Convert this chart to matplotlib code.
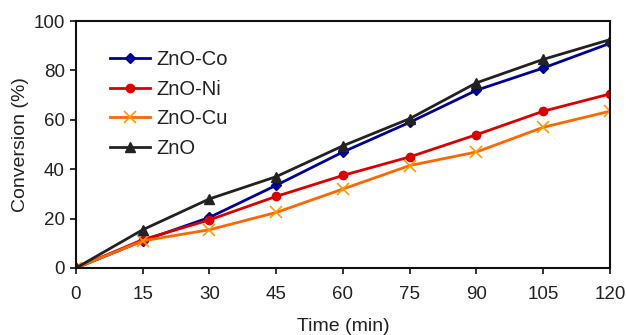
import matplotlib
matplotlib.use("Agg")
import matplotlib.pyplot as plt

plt.rcParams['font.family'] = ['Liberation Sans', 'DejaVu Sans']

time = [0, 15, 30, 45, 60, 75, 90, 105, 120]
zno_co = [0, 11, 20.5, 33.5, 47, 59, 72, 81, 91]
zno_ni = [0, 11.5, 19.5, 29, 37.5, 45, 54, 63.5, 70.5]
zno_cu = [0, 11, 15.5, 22.5, 32, 41.5, 47, 57, 63.5]
zno = [0, 15.5, 28, 37, 49.5, 60.5, 75, 84.5, 92.5]

fig = plt.figure(figsize=(6.26, 3.35), dpi=100)
ax = fig.add_axes([0.1214, 0.20, 0.853, 0.737])

ax.plot(time, zno_co, color='#000099', lw=2, marker='D', ms=5, label='ZnO-Co')
ax.plot(time, zno_ni, color='#DD0000', lw=2, marker='o', ms=6, label='ZnO-Ni')
ax.plot(time, zno_cu, color='#FF6600', lw=2, marker='x', ms=8, mec='#FF9900', mew=1.2, label='ZnO-Cu')
ax.plot(time, zno, color='#222222', lw=2, marker='^', ms=7, label='ZnO')

ax.set_xlim(0, 120)
ax.set_ylim(0, 100)
ax.set_xticks(time)
ax.set_yticks([0, 20, 40, 60, 80, 100])
ax.tick_params(direction='out', length=4, width=1.3, labelsize=13.5, colors='#222222')
ax.tick_params(axis='x', pad=9)
ax.tick_params(axis='y', pad=4)
for s in ax.spines.values():
    s.set_linewidth(1.5)
    s.set_color('#111111')
ax.set_xlabel('Time (min)', fontsize=14, color='#222222', labelpad=11)
ax.set_ylabel('Conversion (%)', fontsize=14, color='#222222', labelpad=3)

leg = ax.legend(loc='upper left', bbox_to_anchor=(0.03, 0.955), frameon=False, fontsize=14.5,
                labelspacing=0.52, handlelength=2.0, handletextpad=0.3)
for t in leg.get_texts():
    t.set_color('#222222')

fig.savefig('out.png', dpi=100)
